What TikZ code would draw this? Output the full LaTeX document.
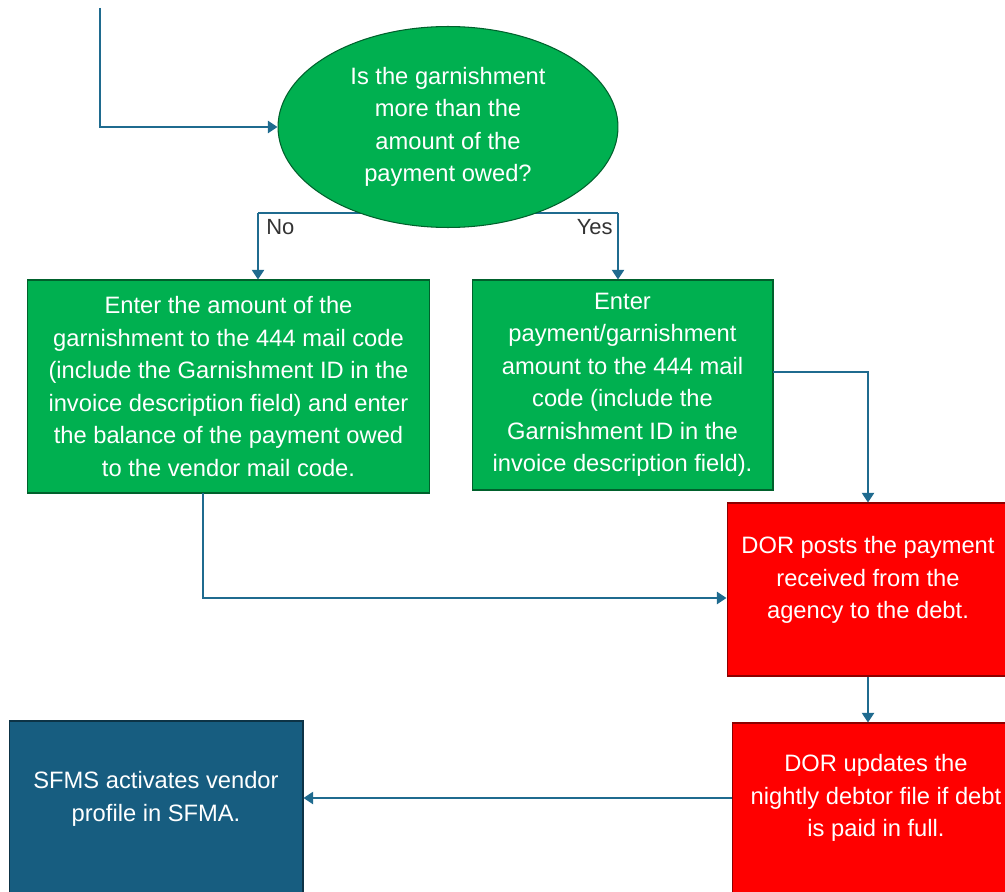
\documentclass[tikz,border=0pt]{standalone}
\usepackage{fontspec}
\setmainfont{Liberation Sans}
\usetikzlibrary{shapes.geometric, arrows.meta, backgrounds}

\definecolor{boxgreen}{HTML}{00B050}
\definecolor{boxred}{HTML}{FF0000}
\definecolor{boxblue}{HTML}{175D80}
\definecolor{linkblue}{HTML}{1F6B8F}

\tikzset{
  box/.style={draw=#1!55!black, fill=#1, line width=0.6pt, inner sep=0pt},
  boxtext/.style={text=white, align=center, font=\fontsize{13.5}{18.5}\selectfont},
  flow/.style={draw=linkblue, line width=0.9pt, -{Triangle[length=5.5pt,width=7pt]}},
  link/.style={draw=linkblue, line width=0.9pt},
  answer/.style={text=black!80, font=\fontsize{12.5}{15}\selectfont, inner sep=0pt}
}

\begin{document}
\begin{tikzpicture}[x=0.02cm, y=-0.02cm]
    \clip (0,0) rectangle (1005,892);

    % decision
    \node[box=boxgreen, ellipse, minimum width=6.8cm, minimum height=4.02cm, boxtext] (garnish) at (448,127)
        {Is the garnishment\\more than the\\amount of the\\payment owed?};

    % the two answers
    \node[box=boxgreen, minimum width=8.06cm, minimum height=4.26cm, boxtext] (split) at (228.5,386.5)
        {Enter the amount of the\\garnishment to the 444 mail code\\(include the Garnishment ID in the\\invoice description field) and enter\\the balance of the payment owed\\to the vendor mail code.};
    \node[box=boxgreen, minimum width=6.02cm, minimum height=4.2cm, boxtext] (full) at (622.5,385)
        {Enter\\payment/garnishment\\amount to the 444 mail\\code (include the\\Garnishment ID in the\\invoice description field).};

    % DOR steps
    \node[box=boxred, minimum width=5.9cm, minimum height=3.46cm] (post) at (874.5,589.5) {};
    \node[boxtext] (posttext) at (868,580) {DOR posts the payment\\received from the\\agency to the debt.};
    \node[box=boxred, minimum width=5.76cm, minimum height=4cm] (update) at (876,823) {};
    \node[boxtext] (updtext) at (876,798) {DOR updates the\\nightly debtor file if debt\\is paid in full.};

    % SFMS
    \node[box=boxblue, minimum width=5.88cm, minimum height=4cm] (sfms) at (156,821) {};
    \node[boxtext] (sfmstext) at (156,799) {SFMS activates vendor\\profile in SFMA.};

    % arrows
    \coordinate (entry) at (100,8);
    \draw[flow] (entry) |- (garnish.west);

    \coordinate (nobend) at (258,213);
    \coordinate (yesbend) at (618,213);
    \begin{pgfonlayer}{background}
      \draw[link] (nobend) -- (yesbend);
    \end{pgfonlayer}
    \draw[flow] (nobend) -- (nobend |- split.north);
    \draw[flow] (yesbend) -- (yesbend |- full.north);
    \node[answer, anchor=west] (no) at (266,227) {No};
    \node[answer, anchor=east] (yes) at (613,227) {Yes};

    \coordinate (fullout) at (773,372);
    \draw[flow] (fullout) -| (posttext.north |- post.north);
    \coordinate (splitout) at (203,493);
    \draw[flow] (splitout) |- (post.west |- 0,598);

    \draw[flow] (posttext.south |- post.south) -- (posttext.south |- update.north);
    \draw[flow] (update.west |- updtext) -- (sfms.east |- updtext);
\end{tikzpicture}
\end{document}
